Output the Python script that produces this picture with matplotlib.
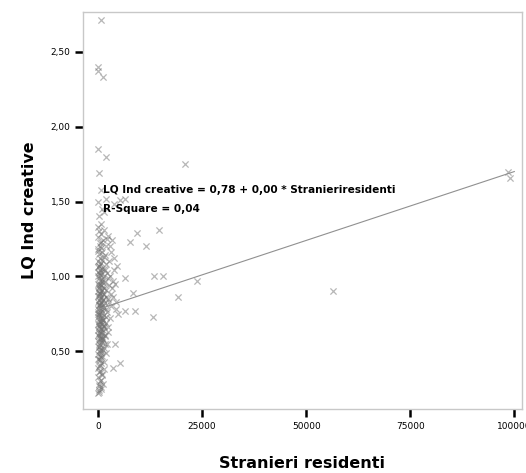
#!/usr/bin/env python3
"""Scatter of LQ Ind creative vs Stranieri residenti with linear fit (SPSS style)."""

import matplotlib
matplotlib.use('Agg')
import matplotlib.pyplot as plt
import numpy as np
from matplotlib.ticker import FuncFormatter

# Data
stranieri = [
    0, 300, 800, 200, 1200, 500, 0, 900, 400, 1500, 100, 700, 1300, 200, 600,
    1000, 0, 1800, 300, 800, 1400, 100, 500, 2200, 900, 0, 1200, 400, 700, 1600,
    200, 1000, 2500, 0, 600, 1300, 300, 900, 1900, 100, 500, 1100, 2800, 0, 700,
    1500, 300, 2100, 900, 0, 500, 1300, 3200, 200, 800, 1700, 0, 1100, 400, 2400,
    700, 100, 1400, 3000, 500, 0, 900, 2000, 300, 1200, 600, 2700, 0, 1600, 400,
    900, 3500, 200, 1300, 700, 2200, 0, 500, 1000, 3800, 300, 1800, 800, 0, 2600,
    500, 1400, 200, 1000, 3100, 0, 700, 1900, 400, 1200, 0, 800, 2300, 300, 1500,
    0, 600,
    150, 450, 250, 650, 350, 50, 750, 250, 550, 150, 850, 350, 50, 650, 150,
    450, 250, 50, 550, 350, 100, 600, 250, 950, 1050, 1150, 1250, 1700, 2000, 2300,
    2600, 2900, 3300, 3600, 4000, 4300, 4600, 3900, 3300, 2800, 4200, 1700,
    0, 400, 800, 1200, 200, 600, 1000, 1600, 0, 400, 800, 1400, 200, 600, 1000,
    1800, 0, 400, 800, 1200, 200, 600, 1100, 2000, 0, 300, 700, 1500, 100, 500,
    900, 2400, 0, 300, 700, 1300, 100, 500, 900, 1700, 0, 400, 800, 2100, 200,
    600, 1000, 0, 400, 1200,
    200, 900, 0, 1800, 3800, 5300, 6500, 600, 1400,
    700, 0, 0, 1200, 0, 2000, 300, 20900,
    9400, 7700, 11500, 14700, 13500, 15600, 6500, 8400, 8900, 6500, 4800, 4100,
    5300, 3600, 13200, 19200, 23800, 56500, 98500, 99000,
]
lq_creative = [
    0.22, 0.24, 0.25, 0.27, 0.28, 0.30, 0.33, 0.35, 0.37, 0.38, 0.40, 0.42, 0.43, 0.45, 0.46,
    0.47, 0.48, 0.49, 0.50, 0.51, 0.52, 0.53, 0.54, 0.55, 0.56, 0.57, 0.58, 0.59, 0.60, 0.61,
    0.62, 0.63, 0.63, 0.64, 0.65, 0.66, 0.67, 0.68, 0.69, 0.70, 0.70, 0.71, 0.72, 0.73, 0.74,
    0.74, 0.75, 0.76, 0.77, 0.78, 0.79, 0.79, 0.80, 0.81, 0.82, 0.82, 0.83, 0.84, 0.85, 0.85,
    0.86, 0.87, 0.88, 0.88, 0.89, 0.90, 0.91, 0.91, 0.92, 0.93, 0.94, 0.94, 0.95, 0.96, 0.97,
    0.98, 0.97, 0.99, 1.00, 1.01, 1.02, 1.03, 1.04, 1.05, 1.04, 1.07, 1.08, 1.09, 1.10, 1.10,
    1.12, 1.13, 1.15, 1.16, 1.16, 1.18, 1.19, 1.20, 1.22, 1.24, 1.26, 1.28, 1.27, 1.30, 1.31,
    1.33, 1.35,
    0.55, 0.58, 0.66, 0.69, 0.72, 0.76, 0.80, 0.84, 0.88, 0.93, 0.96, 1.01, 1.06, 0.62, 0.60,
    0.81, 0.74, 0.68, 0.51, 0.44, 0.36, 0.26, 0.23, 0.72, 0.59, 0.88, 0.67, 0.55, 0.78, 0.66,
    0.83, 1.00, 0.92, 0.86, 0.95, 0.83, 1.07, 1.12, 1.24, 1.20, 0.78, 1.04,
    0.45, 0.47, 0.49, 0.51, 0.53, 0.56, 0.58, 0.60, 0.61, 0.63, 0.65, 0.67, 0.68, 0.70, 0.71,
    0.73, 0.75, 0.76, 0.78, 0.80, 0.81, 0.83, 0.85, 0.86, 0.87, 0.89, 0.90, 0.92, 0.94, 0.95,
    0.97, 0.99, 1.00, 1.02, 1.03, 1.05, 1.07, 1.08, 1.11, 1.14, 1.17, 1.20, 1.23, 1.25, 0.28,
    0.31, 0.34, 0.39, 0.41, 0.64,
    1.40, 1.45, 1.50, 1.52, 1.48, 1.51, 1.52, 1.58, 1.43,
    2.71, 2.40, 2.37, 2.33, 1.85, 1.80, 1.69, 1.75,
    1.29, 1.23, 1.20, 1.31, 1.00, 1.00, 0.99, 0.89, 0.77, 0.77, 0.75, 0.55,
    0.42, 0.39, 0.73, 0.86, 0.97, 0.90, 1.70, 1.66,
]

# Linear fit reported in the chart
intercept = 0.78
slope = 0.0000092
fit_x = [0, 100000]

x_ticks = [0, 25000, 50000, 75000, 100000]
y_ticks = [0.5, 1.0, 1.5, 2.0, 2.5]

fig = plt.figure(figsize=(5.26, 4.73), dpi=100)
ax = fig.add_axes([0.158, 0.135, 0.834, 0.84])

ax.scatter(stranieri, lq_creative, marker='x', s=20, color='#707070',
           linewidths=0.9, alpha=0.5)

fx = np.array(fit_x)
ax.plot(fx, intercept + slope * fx, color='#909090', linewidth=0.8)

ax.text(1200, 1.58, 'LQ Ind creative = 0,78 + 0,00 * Stranieriresidenti',
        fontsize=7.6, fontweight='bold', va='center')
ax.text(1200, 1.45, 'R-Square = 0,04', fontsize=7.6, fontweight='bold', va='center')

ax.set_xlim(-3600, 101800)
ax.set_ylim(0.113, 2.767)
ax.set_xticks(x_ticks)
ax.set_yticks(y_ticks)
ax.xaxis.set_major_formatter(FuncFormatter(lambda v, p: f'{int(v)}'))
ax.yaxis.set_major_formatter(FuncFormatter(lambda v, p: f'{v:.2f}'.replace('.', ',')))
ax.tick_params(length=6, width=1.8, color='black', labelsize=6.5, pad=3)

for s in ax.spines.values():
    s.set_color('#c8c8c8')
    s.set_linewidth(1.0)

ax.set_xlabel('Stranieri residenti', fontsize=11.5, fontweight='bold', labelpad=18)
ax.set_ylabel('LQ Ind creative', fontsize=11.5, fontweight='bold', labelpad=10)

plt.savefig('out.png', dpi=100)
plt.close()
